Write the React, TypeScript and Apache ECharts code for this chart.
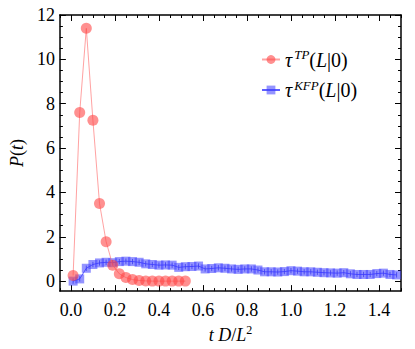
import React, { useEffect, useRef } from 'react';
import * as echarts from 'echarts';

// tau^TP(L|0)
const TP_T = [0.01, 0.04, 0.07, 0.10, 0.13, 0.16, 0.19, 0.22, 0.25, 0.28, 0.31, 0.34, 0.37, 0.40, 0.43, 0.46, 0.49, 0.52];
const TP_P = [0.25, 7.6, 11.4, 7.25, 3.5, 1.78, 0.72, 0.33, 0.16, 0.07, 0.03, 0.01, 0.0, 0.0, 0.0, 0.0, 0.0, 0.0];

// tau^KFP(L|0)
const KFP_T = [
  0.01, 0.04, 0.07, 0.10, 0.13, 0.16, 0.19, 0.22, 0.25, 0.28,
  0.31, 0.34, 0.37, 0.40, 0.43, 0.46, 0.49, 0.52, 0.55, 0.58,
  0.61, 0.64, 0.67, 0.70, 0.73, 0.76, 0.79, 0.82, 0.85, 0.88,
  0.91, 0.94, 0.97, 1.00, 1.03, 1.06, 1.09, 1.12, 1.15, 1.18,
  1.21, 1.24, 1.27, 1.30, 1.33, 1.36, 1.39, 1.42, 1.45, 1.48,
];
const KFP_P = [
  0.0, 0.1, 0.58, 0.75, 0.82, 0.85, 0.83, 0.88, 0.90, 0.88,
  0.85, 0.78, 0.75, 0.72, 0.73, 0.72, 0.62, 0.65, 0.66, 0.68,
  0.55, 0.57, 0.60, 0.58, 0.55, 0.53, 0.55, 0.55, 0.50, 0.42,
  0.42, 0.41, 0.43, 0.47, 0.45, 0.42, 0.42, 0.40, 0.38, 0.37,
  0.36, 0.38, 0.33, 0.30, 0.30, 0.30, 0.34, 0.36, 0.30, 0.28,
];
// half-height of the small error bars on the KFP points
const KFP_ERR = [
  0.12, 0.12, 0.12, 0.12, 0.12, 0.12, 0.12, 0.12, 0.12, 0.12,
  0.12, 0.12, 0.12, 0.12, 0.12, 0.12, 0.12, 0.12, 0.12, 0.12,
  0.12, 0.12, 0.12, 0.12, 0.12, 0.12, 0.12, 0.12, 0.12, 0.12,
  0.12, 0.12, 0.12, 0.12, 0.12, 0.12, 0.12, 0.12, 0.12, 0.12,
  0.12, 0.12, 0.12, 0.12, 0.12, 0.12, 0.12, 0.12, 0.12, 0.12,
];

const X_TICKS = [0, 0.2, 0.4, 0.6, 0.8, 1.0, 1.2, 1.4];
const Y_TICKS = [0, 2, 4, 6, 8, 10, 12];

const X_MIN = -0.05;
const X_MAX = 1.5;
const Y_MIN = -0.45;
const Y_MAX = 12;

const FONT = "'Times New Roman', 'Liberation Serif', serif";

function minorList(min: number, max: number, step: number): number[] {
  const out: number[] = [];
  const start = Math.ceil(min / step - 1e-9);
  const end = Math.floor(max / step + 1e-9);
  for (let k = start; k <= end; k++) out.push(+(k * step).toFixed(4));
  return out;
}

const X_MINOR = minorList(X_MIN, X_MAX, 0.05);
const Y_MINOR = minorList(Y_MIN, Y_MAX, 0.5);

function makeRich(size: number, supSize: number, supRaise: number) {
  return {
    i: { fontFamily: FONT, fontStyle: 'italic', fontSize: size, color: '#000' },
    n: { fontFamily: FONT, fontSize: size, color: '#000' },
    s: { fontFamily: FONT, fontSize: supSize, color: '#000', padding: [0, 0, supRaise, 0] },
    si: { fontFamily: FONT, fontStyle: 'italic', fontSize: supSize, color: '#000', padding: [0, 0, supRaise, 2] },
  };
}

const AXIS_LINE = { show: true, onZero: false, lineStyle: { color: '#000', width: 1.5 } };

function xAxisPair(position: 'bottom' | 'top', main: boolean) {
  return [
    {
      type: 'value', min: X_MIN, max: X_MAX, position,
      axisLine: AXIS_LINE,
      splitLine: { show: false },
      axisTick: { show: true, inside: true, length: 6, customValues: X_TICKS, lineStyle: { color: '#000', width: 1 } },
      axisLabel: main
        ? { show: true, customValues: X_TICKS, formatter: (v: number) => v.toFixed(1), fontFamily: FONT, fontSize: 18, color: '#000', margin: 10 }
        : { show: false },
      ...(main
        ? {
            name: '{i|t D}{n|/}{i|L}{s|2}',
            nameLocation: 'middle',
            nameGap: 19,
            nameTextStyle: { fontFamily: FONT, fontSize: 18, color: '#000', rich: makeRich(18, 12, 10) },
          }
        : {}),
    },
    {
      type: 'value', min: X_MIN, max: X_MAX, position,
      axisLine: { show: false, onZero: false },
      splitLine: { show: false },
      axisTick: { show: true, inside: true, length: 3, customValues: X_MINOR, lineStyle: { color: '#000', width: 1 } },
      axisLabel: { show: false },
    },
  ];
}

function yAxisPair(position: 'left' | 'right', main: boolean) {
  return [
    {
      type: 'value', min: Y_MIN, max: Y_MAX, position,
      axisLine: AXIS_LINE,
      splitLine: { show: false },
      axisTick: { show: true, inside: true, length: 6, customValues: Y_TICKS, lineStyle: { color: '#000', width: 1 } },
      axisLabel: main
        ? { show: true, customValues: Y_TICKS, formatter: (v: number) => String(v), fontFamily: FONT, fontSize: 18, color: '#000', margin: 5 }
        : { show: false },
      ...(main
        ? {
            name: '{i|P}{n|(}{i|t}{n|)}',
            nameLocation: 'middle',
            nameGap: 29,
            nameRotate: 90,
            nameTextStyle: { fontFamily: FONT, fontSize: 18, color: '#000', rich: makeRich(18, 12, 8) },
          }
        : {}),
    },
    {
      type: 'value', min: Y_MIN, max: Y_MAX, position,
      axisLine: { show: false, onZero: false },
      splitLine: { show: false },
      axisTick: { show: true, inside: true, length: 3, customValues: Y_MINOR, lineStyle: { color: '#000', width: 1 } },
      axisLabel: { show: false },
    },
  ];
}

export default function App() {
  const ref = useRef<HTMLDivElement>(null);

  useEffect(() => {
    if (!ref.current) return;
    const chart = echarts.init(ref.current, undefined, { renderer: 'svg' });

    const tpData = TP_T.map((t, i) => [t, TP_P[i]]);
    const kfpData = KFP_T.map((t, i) => [t, KFP_P[i]]);
    const errData = KFP_T.map((t, i) => [t, KFP_P[i] - KFP_ERR[i], KFP_P[i] + KFP_ERR[i]]);

    const legendNames: Record<string, string> = {
      TP: '{i|τ}{si|TP}{n|(}{i|L}{n||0)}',
      KFP: '{i|τ}{si|KFP}{n|(}{i|L}{n||0)}',
    };

    chart.setOption({
      animation: false,
      backgroundColor: '#fff',
      grid: { left: 50, right: 14, top: 15, bottom: 54, containLabel: false },
      xAxis: [...xAxisPair('bottom', true), ...xAxisPair('top', false)],
      yAxis: [...yAxisPair('left', true), ...yAxisPair('right', false)],
      legend: {
        orient: 'vertical',
        left: 256,
        top: 43,
        itemWidth: 18,
        itemHeight: 11,
        itemGap: 9,
        data: ['TP', 'KFP'],
        formatter: (name: string) => legendNames[name],
        textStyle: { fontFamily: FONT, fontSize: 20, color: '#000', rich: makeRich(20, 13, 10) },
      },
      series: [
        {
          name: 'KFP',
          type: 'line',
          xAxisIndex: 0,
          yAxisIndex: 0,
          data: kfpData,
          symbol: 'rect',
          symbolSize: 9,
          itemStyle: { color: 'rgb(60,60,255)', opacity: 0.55 },
          lineStyle: { color: 'rgba(40,40,255,0.75)', width: 1 },
          z: 2,
        },
        {
          name: 'KFPerr',
          type: 'custom',
          xAxisIndex: 0,
          yAxisIndex: 0,
          data: errData,
          encode: { x: 0, y: [1, 2] },
          silent: true,
          renderItem: (params: any, api: any) => {
            const lo = api.coord([api.value(0), api.value(1)]);
            const hi = api.coord([api.value(0), api.value(2)]);
            return {
              type: 'line',
              shape: { x1: lo[0], y1: lo[1], x2: hi[0], y2: hi[1] },
              style: { stroke: 'rgba(30,30,220,0.7)', lineWidth: 1 },
            };
          },
          z: 2,
        },
        {
          name: 'TP',
          type: 'line',
          xAxisIndex: 0,
          yAxisIndex: 0,
          data: tpData,
          symbol: 'circle',
          symbolSize: 11,
          itemStyle: { color: 'rgb(255,70,70)', opacity: 0.6 },
          lineStyle: { color: 'rgba(255,100,100,0.6)', width: 1 },
          z: 3,
        },
      ],
    });

    return () => chart.dispose();
  }, []);

  return <div ref={ref} style={{ position: 'fixed', left: 0, top: 0, width: 415, height: 349 }} />;
}
